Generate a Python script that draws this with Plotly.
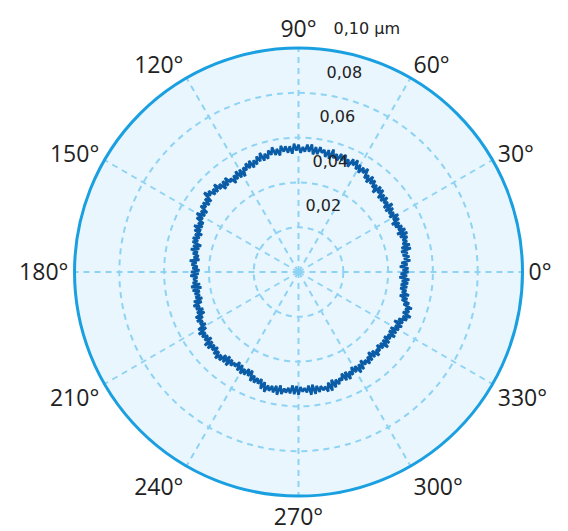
import plotly.graph_objects as go

# angle (degrees) of each measured point, every degree
theta_deg = list(range(0, 360))

r_um = [
    0.0492, 0.0465, 0.0491, 0.0453, 0.0488, 0.0461, 0.0502, 0.0474, 0.0500, 0.0471,
    0.0495, 0.0467, 0.0513, 0.0472, 0.0512, 0.0481, 0.0504, 0.0486, 0.0511, 0.0479,
    0.0517, 0.0472, 0.0514, 0.0483, 0.0506, 0.0476, 0.0501, 0.0468, 0.0508, 0.0482,
    0.0513, 0.0474, 0.0502, 0.0480, 0.0509, 0.0474, 0.0518, 0.0477, 0.0506, 0.0489,
    0.0517, 0.0485, 0.0515, 0.0485, 0.0526, 0.0500, 0.0528, 0.0486, 0.0522, 0.0501,
    0.0532, 0.0507, 0.0540, 0.0502, 0.0533, 0.0512, 0.0555, 0.0527, 0.0549, 0.0518,
    0.0552, 0.0525, 0.0564, 0.0534, 0.0560, 0.0519, 0.0550, 0.0529, 0.0564, 0.0534,
    0.0561, 0.0527, 0.0554, 0.0531, 0.0569, 0.0523, 0.0561, 0.0528, 0.0558, 0.0542,
    0.0566, 0.0532, 0.0563, 0.0529, 0.0573, 0.0539, 0.0570, 0.0538, 0.0558, 0.0532,
    0.0569, 0.0542, 0.0573, 0.0529, 0.0563, 0.0535, 0.0564, 0.0541, 0.0569, 0.0527,
    0.0558, 0.0532, 0.0569, 0.0537, 0.0559, 0.0524, 0.0549, 0.0520, 0.0559, 0.0523,
    0.0549, 0.0515, 0.0538, 0.0507, 0.0543, 0.0512, 0.0539, 0.0510, 0.0528, 0.0489,
    0.0528, 0.0493, 0.0530, 0.0496, 0.0519, 0.0486, 0.0516, 0.0502, 0.0533, 0.0498,
    0.0528, 0.0493, 0.0528, 0.0508, 0.0542, 0.0508, 0.0532, 0.0508, 0.0540, 0.0520,
    0.0550, 0.0501, 0.0530, 0.0498, 0.0527, 0.0504, 0.0527, 0.0486, 0.0514, 0.0487,
    0.0525, 0.0488, 0.0515, 0.0476, 0.0499, 0.0473, 0.0510, 0.0473, 0.0501, 0.0461,
    0.0492, 0.0467, 0.0496, 0.0469, 0.0492, 0.0450, 0.0485, 0.0455, 0.0491, 0.0458,
    0.0479, 0.0451, 0.0473, 0.0446, 0.0488, 0.0457, 0.0479, 0.0451, 0.0474, 0.0442,
    0.0480, 0.0446, 0.0483, 0.0452, 0.0471, 0.0454, 0.0475, 0.0443, 0.0484, 0.0439,
    0.0480, 0.0449, 0.0474, 0.0452, 0.0474, 0.0445, 0.0486, 0.0452, 0.0493, 0.0466,
    0.0487, 0.0456, 0.0489, 0.0456, 0.0503, 0.0471, 0.0504, 0.0480, 0.0498, 0.0474,
    0.0516, 0.0481, 0.0525, 0.0495, 0.0519, 0.0494, 0.0518, 0.0487, 0.0531, 0.0494,
    0.0529, 0.0497, 0.0520, 0.0493, 0.0526, 0.0502, 0.0535, 0.0506, 0.0529, 0.0493,
    0.0525, 0.0486, 0.0528, 0.0491, 0.0516, 0.0495, 0.0509, 0.0481, 0.0518, 0.0485,
    0.0523, 0.0495, 0.0519, 0.0486, 0.0516, 0.0486, 0.0532, 0.0503, 0.0533, 0.0508,
    0.0531, 0.0506, 0.0548, 0.0514, 0.0557, 0.0524, 0.0547, 0.0522, 0.0549, 0.0518,
    0.0556, 0.0513, 0.0550, 0.0524, 0.0541, 0.0519, 0.0543, 0.0507, 0.0546, 0.0509,
    0.0548, 0.0514, 0.0535, 0.0519, 0.0539, 0.0509, 0.0551, 0.0507, 0.0549, 0.0515,
    0.0544, 0.0519, 0.0540, 0.0525, 0.0550, 0.0511, 0.0551, 0.0503, 0.0541, 0.0508,
    0.0533, 0.0508, 0.0522, 0.0493, 0.0529, 0.0492, 0.0531, 0.0498, 0.0519, 0.0486,
    0.0516, 0.0490, 0.0528, 0.0492, 0.0522, 0.0482, 0.0510, 0.0492, 0.0518, 0.0488,
    0.0513, 0.0475, 0.0510, 0.0482, 0.0518, 0.0490, 0.0506, 0.0479, 0.0508, 0.0484,
    0.0521, 0.0483, 0.0514, 0.0479, 0.0507, 0.0487, 0.0519, 0.0482, 0.0515, 0.0480,
    0.0517, 0.0493, 0.0523, 0.0480, 0.0519, 0.0493, 0.0530, 0.0505, 0.0540, 0.0499,
    0.0526, 0.0504, 0.0532, 0.0490, 0.0514, 0.0477, 0.0501, 0.0464, 0.0504, 0.0470,
    0.0489, 0.0460, 0.0490, 0.0460, 0.0492, 0.0463, 0.0496, 0.0451, 0.0485, 0.0456,
]

angle_ticks = [0, 30, 60, 90, 120, 150, 180, 210, 240, 270, 300, 330]
angle_labels = ["0°", "30°", "60°", "90°", "120°", "150°", "180°", "210°",
                "240°", "270°", "300°", "330°"]
radial_ticks = [0.02, 0.04, 0.06, 0.08, 0.10]
radial_labels = ["0,02", "0,04", "0,06", "0,08", "0,10 µm"]

RADIAL_LABEL_ANGLE = 81
GRID = "#8ed3f4"
NB = "\u00a0"

fig = go.Figure()
fig.add_trace(go.Scatterpolar(
    r=r_um + [r_um[0]],
    theta=theta_deg + [theta_deg[0]],
    mode="lines",
    line=dict(color="#0b5ca6", width=2.6),
    hoverinfo="skip",
    showlegend=False,
))

# radial tick labels, placed at the tick values along the label angle
fig.add_trace(go.Scatterpolar(
    r=radial_ticks,
    theta=[RADIAL_LABEL_ANGLE] * len(radial_ticks),
    mode="text",
    text=[lab + "<br>" + NB + "<br>" + NB for lab in radial_labels],
    textposition="middle right",
    textfont=dict(size=16, color="#222222", family="DejaVu Sans, sans-serif"),
    hoverinfo="skip",
    showlegend=False,
    cliponaxis=False,
))

fig.update_layout(
    width=568, height=531,
    margin=dict(l=0, r=0, t=0, b=0),
    paper_bgcolor="white",
    font=dict(family="Open Sans, Noto Sans, sans-serif", color="#222222"),
    polar=dict(
        domain=dict(x=[0.1312, 0.9199], y=[0.0659, 0.9096]),
        bgcolor="#eaf6fd",
        angularaxis=dict(
            direction="counterclockwise", rotation=0,
            tickmode="array", tickvals=angle_ticks, ticktext=angle_labels,
            tickfont=dict(size=23, color="#222222"),
            showline=True, linecolor="#1a9fe1", linewidth=3,
            showgrid=True, gridcolor=GRID, gridwidth=1.5, griddash="6px,5px",
            ticks="",
        ),
        radialaxis=dict(
            range=[0, 0.1], angle=RADIAL_LABEL_ANGLE,
            tickmode="array", tickvals=radial_ticks, ticktext=radial_labels,
            showticklabels=False,
            showline=False, ticks="",
            showgrid=True, gridcolor=GRID, gridwidth=1.5, griddash="6px,5px",
        ),
    ),
)

fig.write_html("out.html", config={"displayModeBar": False},
               post_script="document.body.style.margin='0';")
